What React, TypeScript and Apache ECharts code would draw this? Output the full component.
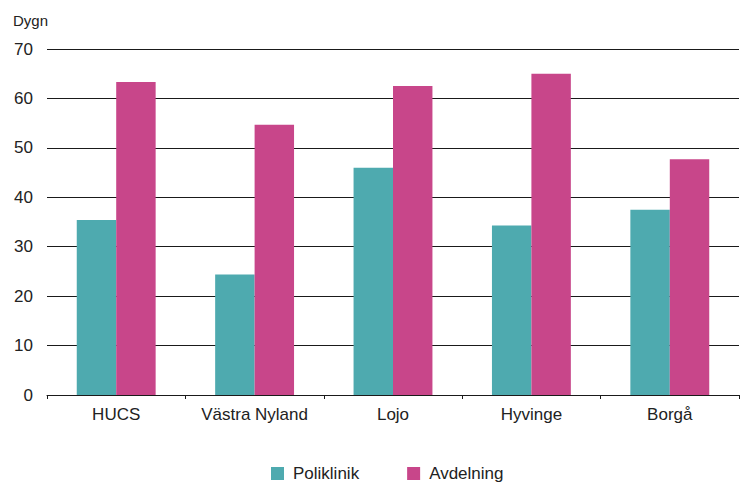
import React, { useEffect, useRef } from "react";
import * as echarts from "echarts";

const categories = ["HUCS", "Västra Nyland", "Lojo", "Hyvinge", "Borgå"];
const poliklinik = [35.4, 24.4, 46.0, 34.3, 37.5];
const avdelning = [63.3, 54.7, 62.5, 65.0, 47.7];
const seriesNames = ["Poliklinik", "Avdelning"];
const unitLabel = "Dygn";

const FONT = "'Liberation Sans', Arial, Helvetica, sans-serif";
const TEXT = "#222222";

export default function App() {
  const ref = useRef<HTMLDivElement>(null);
  useEffect(() => {
    document.body.style.margin = "0";
    const chart = echarts.init(ref.current!, undefined, { renderer: "svg" });
    chart.setOption({
      animation: false,
      backgroundColor: "#ffffff",
      textStyle: { fontFamily: FONT, color: TEXT },
      grid: { left: 47, right: 2, top: 49, bottom: 88, containLabel: false },
      graphic: [
        {
          type: "text",
          left: 13,
          top: 13,
          style: { text: unitLabel, fontSize: 15, fontFamily: FONT, fill: TEXT },
        },
      ],
      legend: {
        left: 266,
        top: 460,
        itemWidth: 13,
        itemHeight: 13,
        itemGap: 48,
        icon: "rect",
        textStyle: { fontSize: 17, fontFamily: FONT, color: TEXT, padding: [0, 0, 0, 4] },
        data: seriesNames,
      },
      xAxis: {
        type: "category",
        data: categories,
        axisLine: { show: true, lineStyle: { color: "#1a1a1a", width: 1 } },
        axisTick: { show: true, length: 4, lineStyle: { color: "#1a1a1a" } },
        axisLabel: { fontSize: 17, color: TEXT, fontFamily: FONT, margin: 11, interval: 0 },
      },
      yAxis: {
        type: "value",
        min: 0,
        max: 70,
        interval: 10,
        axisLine: { show: false },
        axisTick: { show: false },
        axisLabel: { fontSize: 17, color: TEXT, fontFamily: FONT, margin: 14 },
        splitLine: { show: true, lineStyle: { color: "#1a1a1a", width: 1 } },
      },
      series: [
        {
          name: seriesNames[0],
          type: "bar",
          data: poliklinik,
          barGap: "0%",
          barCategoryGap: "43%",
          itemStyle: { color: "#4EAAAF" },
        },
        {
          name: seriesNames[1],
          type: "bar",
          data: avdelning,
          barGap: "0%",
          barCategoryGap: "43%",
          itemStyle: { color: "#C8468A" },
        },
      ],
    });
    return () => chart.dispose();
  }, []);
  return (
    <div
      ref={ref}
      style={{ position: "fixed", left: 0, top: 0, width: 741, height: 483 }}
    />
  );
}
